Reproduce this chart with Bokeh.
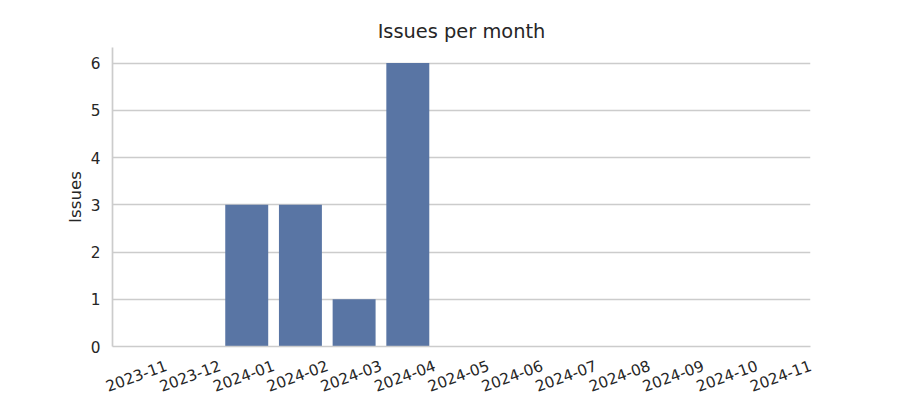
import math
from bokeh.plotting import figure
from bokeh.models import Range1d, FixedTicker, LinearAxis
from bokeh.embed import file_html
from bokeh.resources import INLINE

months = ["2023-11", "2023-12", "2024-01", "2024-02", "2024-03", "2024-04", "2024-05",
          "2024-06", "2024-07", "2024-08", "2024-09", "2024-10", "2024-11"]
issues = [0, 0, 3, 3, 1, 6, 0, 0, 0, 0, 0, 0, 0]
y_ticks = [0, 1, 2, 3, 4, 5, 6]

TEXT = "#262626"
GRID = "#cccccc"
FONT = "DejaVu Sans"

n = len(months)
month_index = list(range(n))   # category positions on a numeric axis

p = figure(width=900, height=400, x_range=Range1d(-0.5, n - 0.5),
           y_range=Range1d(0, 6.33), output_backend="svg", toolbar_location=None,
           x_axis_location=None, title="Issues per month",
           min_border_left=112, min_border_right=90, min_border_top=47, min_border_bottom=44)

p.vbar(x=month_index, top=issues, width=0.8, fill_color="#5975a4", line_color=None)

p.title.align = "center"
p.title.text_font = FONT
p.title.text_font_size = "19.4px"
p.title.text_font_style = "normal"
p.title.text_color = TEXT

p.outline_line_color = None
p.background_fill_color = "white"
p.border_fill_color = "white"

p.xgrid.grid_line_color = None
p.ygrid.grid_line_color = GRID
p.ygrid.grid_line_width = 1.3

# Month axis: rotated labels; the label axis is offset by half a category so that
# each rotated label sits roughly centred under its bar (as in the reference).
shift = 0.5
p.extra_x_ranges = {"labels": Range1d(-0.5 - shift, n - 0.5 - shift)}
xaxis = LinearAxis(x_range_name="labels", ticker=FixedTicker(ticks=month_index),
                   major_label_overrides={i: m for i, m in zip(month_index, months)})
p.add_layout(xaxis, "below")

p.yaxis.ticker = FixedTicker(ticks=y_ticks)
p.yaxis.axis_label = "Issues"
p.yaxis.axis_label_text_font = FONT
p.yaxis.axis_label_text_font_size = "16.7px"
p.yaxis.axis_label_text_font_style = "normal"
p.yaxis.axis_label_text_color = TEXT
p.yaxis.axis_label_standoff = 3

for ax in (xaxis, p.yaxis):
    ax.axis_line_color = GRID
    ax.axis_line_width = 1.7
    ax.major_tick_line_color = None
    ax.minor_tick_line_color = None
    ax.major_tick_out = 0
    ax.major_tick_in = 0
    ax.major_label_text_font = FONT
    ax.major_label_text_font_size = "15.3px"
    ax.major_label_text_color = TEXT
    ax.major_label_standoff = 12

xaxis.major_label_orientation = math.radians(20)
xaxis.major_label_standoff = 18

open("out.html", "w").write(file_html(p, INLINE))
